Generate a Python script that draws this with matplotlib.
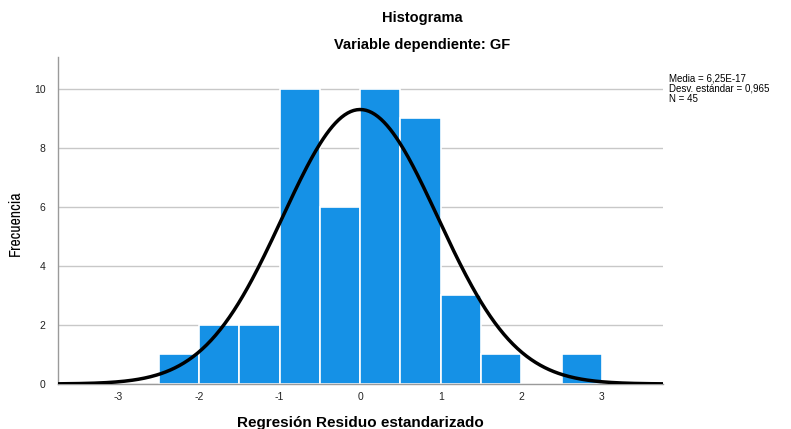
import numpy as np
import matplotlib
matplotlib.use("Agg")
import matplotlib.pyplot as plt
from matplotlib import font_manager

plt.rcParams['font.family'] = ['Liberation Sans', 'DejaVu Sans']

bin_edges = [-2.5, -2.0, -1.5, -1.0, -0.5, 0.0, 0.5, 1.0, 1.5, 2.0, 2.5, 3.0]
counts = [1, 2, 2, 10, 6, 10, 9, 3, 1, 0, 1]
mean = 6.25e-17
sd = 0.965
n = 45
xticks = [-3, -2, -1, 0, 1, 2, 3]
yticks = [0, 2, 4, 6, 8, 10]

cond = [f for f in font_manager.fontManager.ttflist if 'ondensed' in f.fname or 'Narrow' in f.name]
if any('Narrow' in f.name for f in cond):
    ylab_font = dict(family=[next(f.name for f in cond if 'Narrow' in f.name), 'DejaVu Sans'],
                     fontsize=11.5, fontweight='bold')
elif cond:
    ylab_font = dict(family=['DejaVu Sans'], fontstretch='condensed', fontsize=10.5, fontweight='bold')
else:
    ylab_font = dict(family=['Liberation Sans'], fontsize=10, fontweight='bold')

fig = plt.figure(figsize=(7.91, 4.29), dpi=100)
ax = fig.add_axes([0.0733, 0.105, 0.765, 0.762])

lefts = np.array(bin_edges[:-1])
widths = np.diff(bin_edges)
ax.bar(lefts, counts, width=widths, align='edge', color='#1591E6',
       edgecolor='white', linewidth=1.2, zorder=2)

xs = np.linspace(-3.75, 3.76, 400)
bw = 0.5
ys = n * bw / (sd * np.sqrt(2 * np.pi)) * np.exp(-0.5 * ((xs - mean) / sd) ** 2)
ax.plot(xs, ys, color='black', linewidth=2.5, zorder=3, solid_capstyle='butt')

ax.set_xlim(-3.75, 3.76)
ax.set_ylim(0, 11.08)
ax.set_xticks(xticks)
ax.set_xticklabels([str(t) for t in xticks])
ax.set_yticks(yticks)
ax.set_yticklabels([str(t) for t in yticks])
ax.tick_params(axis='x', length=0, labelsize=7.5, colors='#222222', pad=6)
ax.tick_params(axis='y', length=0, labelsize=7.5, colors='#222222', pad=9)
ax.yaxis.grid(True, color='#C8C8C8', linewidth=1, zorder=0)
ax.set_axisbelow(True)
for s in ['top', 'right']:
    ax.spines[s].set_visible(False)
for s in ['left', 'bottom']:
    ax.spines[s].set_color('#9A9A9A')
    ax.spines[s].set_linewidth(1)

fig.text(0.4558, 0.014, 'Regresión Residuo estandarizado', ha='center', va='center',
         fontsize=11, fontweight='bold')
fig.text(0.020, 0.48, 'Frecuencia', ha='center', va='center', rotation=90, **ylab_font)

fig.text(0.534, 0.958, 'Histograma', ha='center', va='center', fontsize=10.5, fontweight='bold')
fig.text(0.534, 0.895, 'Variable dependiente: GF', ha='center', va='center', fontsize=10.5, fontweight='bold')

fig.text(0.846, 0.793, 'Media = 6,25E-17\nDesv. estándar = 0,965\nN = 45',
         ha='left', va='center', fontsize=7, linespacing=1.05)

fig.savefig('out.png', dpi=100)
